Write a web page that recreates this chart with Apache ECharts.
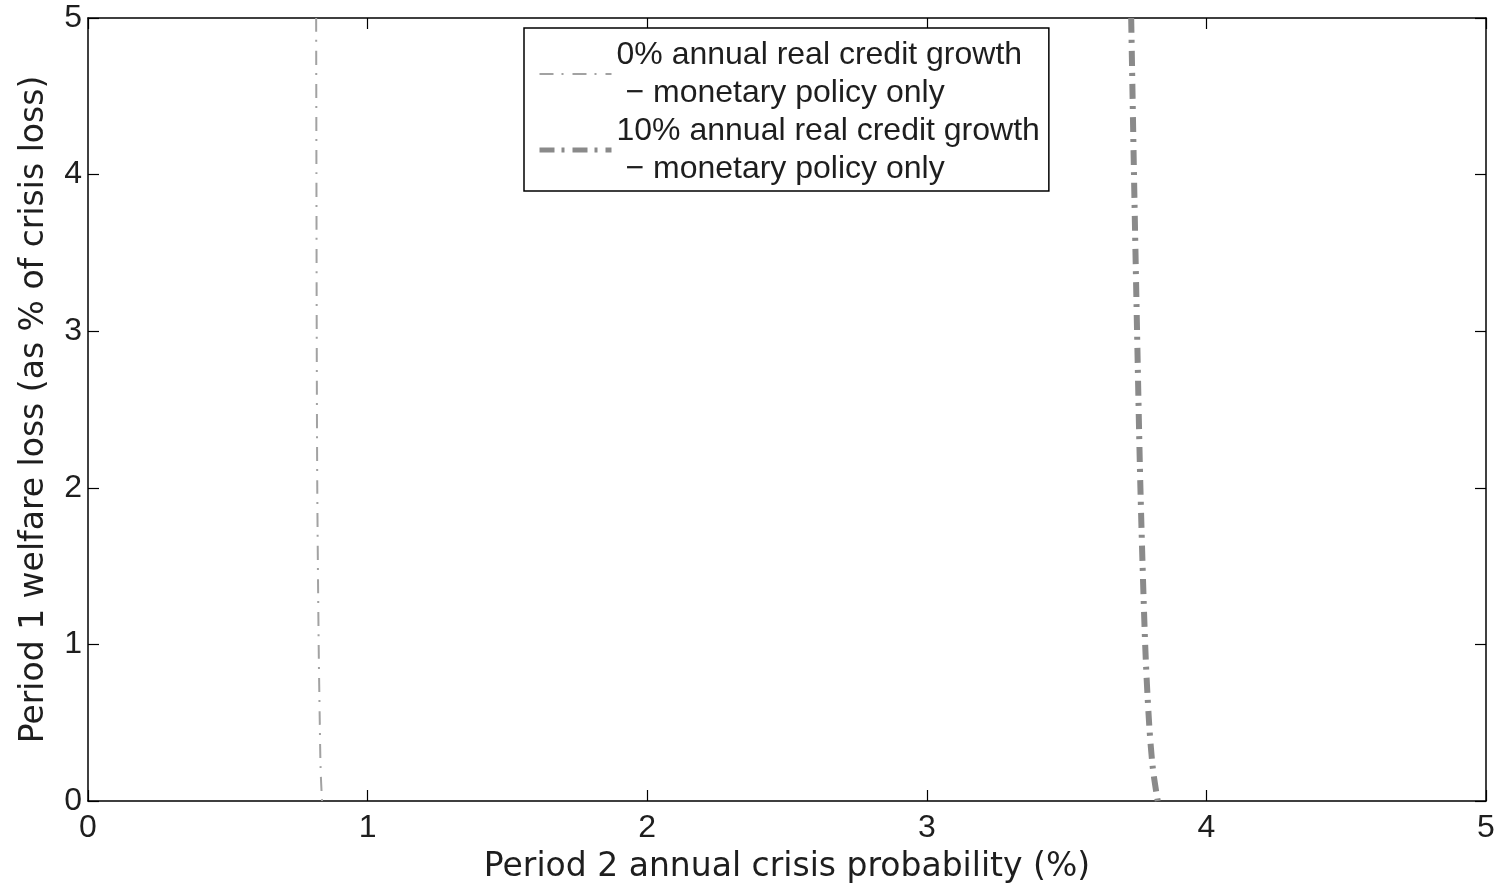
<!DOCTYPE html>
<html>
<head>
<meta charset="utf-8">
<script src="https://cdn.jsdelivr.net/npm/echarts@6/dist/echarts.min.js"></script>
<style>
  html, body { margin: 0; padding: 0; background: #fff; }
  #chart { width: 1499px; height: 889px; }
</style>
</head>
<body>
<div id="chart"></div>
<script>
// Welfare loss (y) against crisis probability (x) under monetary policy only
const seriesNames = [
  '0% annual real credit growth\n − monetary policy only',
  '10% annual real credit growth\n − monetary policy only'
];
// [crisis probability %, welfare loss %]
const growth0 = [
  [0.816, 5.0], [0.817, 4.0], [0.818, 3.0], [0.820, 2.0],
  [0.825, 1.0], [0.829, 0.5], [0.832, 0.2], [0.837, 0.0]
];
const growth10 = [
  [3.731, 5.0], [3.741, 4.0], [3.752, 3.0], [3.764, 2.0],
  [3.781, 1.0], [3.795, 0.5], [3.809, 0.2], [3.826, 0.0]
];
const xTicks = [0, 1, 2, 3, 4, 5];
const yTicks = [0, 1, 2, 3, 4, 5];
const xTitle = 'Period 2 annual crisis probability (%)';
const yTitle = 'Period 1 welfare loss (as % of crisis loss)';

const FONT = '"Liberation Sans", Arial, sans-serif';
const TITLE_FONT = '"DejaVu Sans", "Liberation Sans", sans-serif';
const TEXT = '#1e1e1e';

const thinStyle = { color: '#a2a2a2', width: 2, type: [14, 8, 2, 9], cap: 'butt' };
const thickStyle = { color: '#8a8a8a', width: 6, type: [15, 7, 3, 8], cap: 'butt' };

const chart = echarts.init(document.getElementById('chart'), null, { renderer: 'canvas' });

function axisBase(pos, ticks, showLabel) {
  return {
    type: 'value',
    position: pos,
    min: ticks[0],
    max: ticks[ticks.length - 1],
    interval: 1,
    splitLine: { show: false },
    axisLine: { show: true, onZero: false, lineStyle: { color: '#000', width: 1.5 } },
    axisTick: { show: true, inside: true, length: 11, lineStyle: { color: '#000', width: 1.2 } },
    axisLabel: {
      show: showLabel,
      color: TEXT,
      fontFamily: FONT,
      fontSize: 32,
      showMinLabel: true,
      showMaxLabel: true
    }
  };
}

const xMain = Object.assign(axisBase('bottom', xTicks, true), {
  name: xTitle,
  nameLocation: 'middle',
  nameGap: 50,
  nameTextStyle: { color: TEXT, fontFamily: TITLE_FONT, fontSize: 33 }
});
xMain.axisLabel.margin = 11;
const yMain = Object.assign(axisBase('left', yTicks, true), {
  name: yTitle,
  nameLocation: 'middle',
  nameGap: 37,
  nameTextStyle: { color: TEXT, fontFamily: TITLE_FONT, fontSize: 33 }
});
yMain.axisLabel.margin = 6;

chart.setOption({
  animation: false,
  backgroundColor: '#fff',
  grid: { left: 88, right: 13, top: 18, bottom: 85, containLabel: false },
  xAxis: [xMain, axisBase('top', xTicks, false)],
  yAxis: [yMain, axisBase('right', yTicks, false)],
  legend: {
    orient: 'vertical',
    left: 524,
    top: 28,
    padding: [8, 9, 3, 13],
    itemGap: 0,
    itemWidth: 72,
    itemHeight: 20,
    borderColor: '#000',
    borderWidth: 1.5,
    backgroundColor: '#fff',
    selectedMode: false,
    itemStyle: { opacity: 0 },
    textStyle: { color: TEXT, fontFamily: FONT, fontSize: 32, lineHeight: 38 },
    data: [
      { name: seriesNames[0], lineStyle: thinStyle },
      { name: seriesNames[1], lineStyle: Object.assign({}, thickStyle, { width: 5 }) }
    ]
  },
  series: [
    {
      name: seriesNames[0],
      type: 'line',
      data: growth0,
      symbol: 'none',
      smooth: 0.3,
      itemStyle: { color: thinStyle.color },
      lineStyle: thinStyle
    },
    {
      name: seriesNames[1],
      type: 'line',
      data: growth10,
      symbol: 'none',
      smooth: 0.3,
      itemStyle: { color: thickStyle.color },
      lineStyle: thickStyle
    }
  ]
});
</script>
</body>
</html>
